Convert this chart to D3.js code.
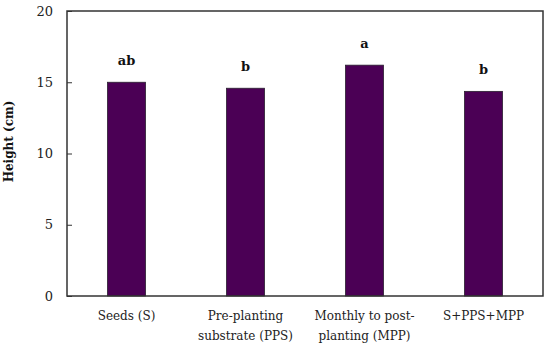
<!DOCTYPE html>
<html>
<head>
<meta charset="utf-8">
<script src="https://cdn.jsdelivr.net/npm/d3@7"></script>
<style>
  body { margin: 0; background: #fff; }
</style>
</head>
<body>
<div id="chart"></div>
<script>
const categories = [
  ['Seeds (S)'],
  ['Pre-planting', 'substrate (PPS)'],
  ['Monthly to post-', 'planting (MPP)'],
  ['S+PPS+MPP']
];
const heights = [15.0, 14.58, 16.2, 14.36];
const letters = ['ab', 'b', 'a', 'b'];
const yTicks = [0, 5, 10, 15, 20];

const FONT = "'DejaVu Serif', serif";

const margin = { top: 11, right: 7, bot: 51, left: 67 };
const width = 550 - margin.left - margin.right;
const height = 347 - margin.top - margin.bot;

const svg = d3.select('#chart')
  .append('svg')
  .attr('width', 550)
  .attr('height', 347)
  .append('g')
  .attr('transform', `translate(${margin.left}, ${margin.top})`);

const xScale = d3.scaleBand()
  .domain(d3.range(categories.length))
  .range([0, width])
  .paddingInner(0.68)
  .paddingOuter(0.34);

const yScale = d3.scaleLinear()
  .domain([0, 20])
  .range([height, 0]);

// bars
svg.selectAll('rect.bar')
  .data(heights)
  .enter()
  .append('rect')
  .attr('class', 'bar')
  .attr('x', (d, i) => xScale(i))
  .attr('y', (d) => yScale(d))
  .attr('width', xScale.bandwidth())
  .attr('height', (d) => height - yScale(d))
  .attr('fill', '#4b0055')
  .attr('stroke', '#2a2030')
  .attr('stroke-width', 0.8);

// significance letters
svg.selectAll('text.letter')
  .data(heights)
  .enter()
  .append('text')
  .attr('class', 'letter')
  .attr('x', (d, i) => xScale(i) + xScale.bandwidth() / 2)
  .attr('y', (d) => yScale(d) - 17)
  .attr('text-anchor', 'middle')
  .style('font-family', FONT)
  .style('font-weight', 'bold')
  .style('font-size', '13px')
  .style('fill', '#111')
  .text((d, i) => letters[i]);

// y axis
const yAxis = svg.append('g')
  .call(d3.axisLeft(yScale).tickValues(yTicks).tickSize(-5).tickPadding(14));
yAxis.select('.domain').remove();
yAxis.selectAll('.tick line').attr('stroke', '#333');
yAxis.selectAll('text')
  .style('font-family', FONT)
  .style('font-size', '13px')
  .style('fill', '#222');

// frame
svg.append('rect')
  .attr('x', 0)
  .attr('y', 0)
  .attr('width', width)
  .attr('height', height)
  .attr('fill', 'none')
  .attr('stroke', '#333')
  .attr('stroke-width', 1.5);

// x labels
const xl = svg.selectAll('text.xlab')
  .data(categories)
  .enter()
  .append('text')
  .attr('class', 'xlab')
  .attr('text-anchor', 'middle')
  .attr('transform', (d, i) => `translate(${xScale(i) + xScale.bandwidth() / 2}, ${height + 24})`)
  .style('font-family', FONT)
  .style('font-size', '12px')
  .style('fill', '#222');
xl.selectAll('tspan')
  .data((d) => d)
  .enter()
  .append('tspan')
  .attr('x', 0)
  .attr('dy', (d, j) => j === 0 ? 0 : 20)
  .text((d) => d);

// y title
svg.append('text')
  .attr('transform', `translate(${-54}, ${height / 2 - 12}) rotate(-90)`)
  .attr('text-anchor', 'middle')
  .style('font-family', FONT)
  .style('font-weight', 'bold')
  .style('font-size', '12px')
  .style('fill', '#111')
  .text('Height (cm)');
</script>
</body>
</html>
